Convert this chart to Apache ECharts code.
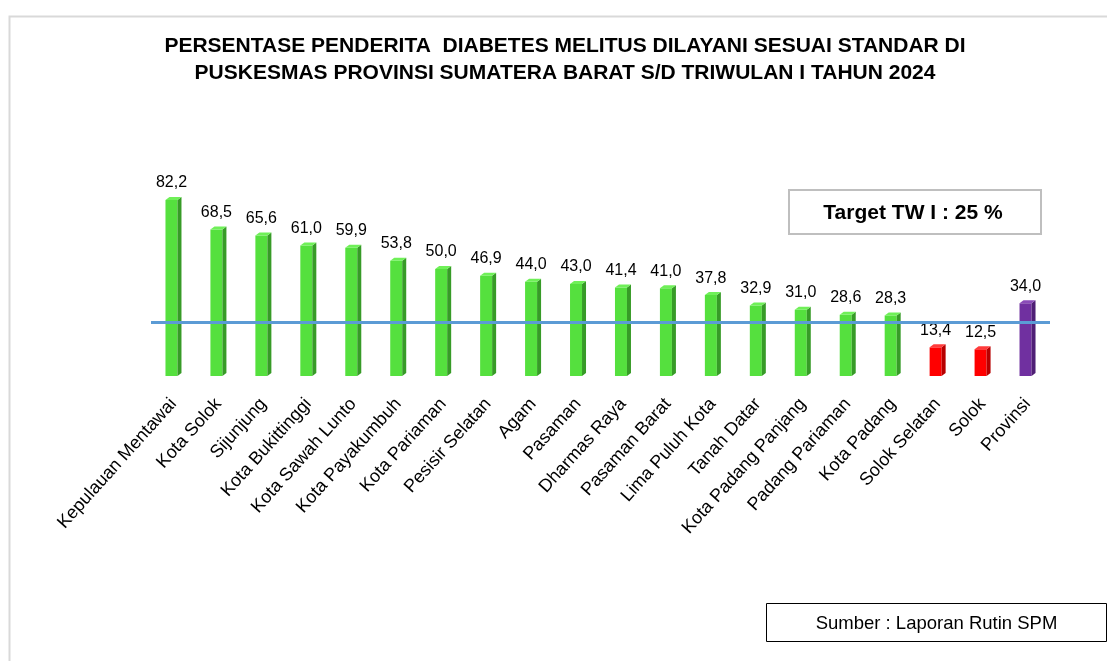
<!DOCTYPE html>
<html>
<head>
<meta charset="utf-8">
<script src="https://cdn.jsdelivr.net/npm/echarts@6/dist/echarts.min.js"></script>
<style>html,body{margin:0;padding:0;background:#fff}#c{width:1107px;height:661px}</style>
</head>
<body>
<div id="c"></div>
<script>
var categories = ['Kepulauan Mentawai','Kota Solok','Sijunjung','Kota Bukittinggi','Kota Sawah Lunto','Kota Payakumbuh','Kota Pariaman','Pesisir Selatan','Agam','Pasaman','Dharmas Raya','Pasaman Barat','Lima Puluh Kota','Tanah Datar','Kota Padang Panjang','Padang Pariaman','Kota Padang','Solok Selatan','Solok','Provinsi'];
var values = [82.2,68.5,65.6,61.0,59.9,53.8,50.0,46.9,44.0,43.0,41.4,41.0,37.8,32.9,31.0,28.6,28.3,13.4,12.5,34.0];
var TARGET = 25;
var titleLines = ['PERSENTASE PENDERITA  DIABETES MELITUS DILAYANI SESUAI STANDAR DI','PUSKESMAS PROVINSI SUMATERA BARAT S/D TRIWULAN I TAHUN 2024'];
var targetText = 'Target TW I : 25 %';
var sourceText = 'Sumber : Laporan Rutin SPM';

var FONT = "'Liberation Sans', Arial, sans-serif";
var palettes = {
  green: {front:'#55e03e', side:'#379b27', top:'#6ff058'},
  red: {front:'#ff0000', side:'#b80000', top:'#ff3b3b'},
  purple: {front:'#7030a0', side:'#4f1f75', top:'#8a4bb8'}
};
function paletteFor(idx, v){
  if (categories[idx] === 'Provinsi') return palettes.purple;
  if (v < TARGET) return palettes.red;
  return palettes.green;
}
function fmt(v){ return v.toFixed(1).replace('.', ','); }

var chart = echarts.init(document.getElementById('c'));
chart.setOption({
  backgroundColor:'#fff',
  animation:false,
  graphic:[
    {type:'rect', left:7, top:14, shape:{width:1110, height:660}, style:{fill:'none', stroke:'#d9d9d9', lineWidth:2}, z:-1},
    {type:'text', z:5, style:{text:titleLines.join('\n'), x:565, y:33, align:'center', verticalAlign:'top', font:'bold 21px ' + FONT, lineHeight:27, fill:'#000'}},
    {type:'group', left:788, top:189, children:[
      {type:'rect', shape:{x:0,y:0,width:252,height:44}, style:{fill:'#fff', stroke:'#bfbfbf', lineWidth:2}},
      {type:'text', style:{text:targetText, x:124, y:23, align:'center', verticalAlign:'middle', font:'bold 21px ' + FONT, fill:'#000'}}
    ]},
    {type:'group', left:766, top:603, children:[
      {type:'rect', shape:{x:0,y:0,width:340,height:38}, style:{fill:'#fff', stroke:'#000', lineWidth:1}},
      {type:'text', style:{text:sourceText, x:170, y:20, align:'center', verticalAlign:'middle', font:'18.5px ' + FONT, fill:'#000'}}
    ]}
  ],
  grid:{left:151, right:57, top:162, bottom:285},
  xAxis:{
    type:'category', data:categories,
    axisLine:{show:false}, axisTick:{show:false},
    axisLabel:{interval:0, rotate:48, margin:25, fontFamily:FONT, fontSize:18, color:'#000'}
  },
  yAxis:{type:'value', min:0, max:100, show:false, splitLine:{show:false}},
  series:[{
    type:'custom',
    data: values.map(function(v,i){return [i,v];}),
    encode:{x:0,y:1},
    renderItem:function(params, api){
      var idx = api.value(0), v = api.value(1);
      var top = api.coord([idx, v]);
      var base = api.coord([idx, 0]);
      var cx = top[0];
      var fl = cx - 8, fr = cx + 4, sr = cx + 8, d = 3;
      var p = paletteFor(idx, v);
      return {type:'group', children:[
        {type:'rect', shape:{x:fl, y:top[1], width:fr-fl, height:base[1]-top[1]}, style:{fill:p.front}},
        {type:'polygon', shape:{points:[[fr,top[1]],[sr,top[1]-d],[sr,base[1]-d],[fr,base[1]]]}, style:{fill:p.side}},
        {type:'polygon', shape:{points:[[fl,top[1]],[fl+4,top[1]-d],[sr,top[1]-d],[fr,top[1]]]}, style:{fill:p.top}},
        {type:'text', style:{text:fmt(v), x:cx-2, y:top[1]-17, align:'center', verticalAlign:'middle', font:'16px ' + FONT, fill:'#000'}}
      ]};
    },
    markLine:{
      silent:true, symbol:'none', label:{show:false},
      lineStyle:{color:'#5b9bd5', width:3, type:'solid'},
      data:[{yAxis:TARGET}]
    },
    z:2
  }]
});
</script>
</body>
</html>
